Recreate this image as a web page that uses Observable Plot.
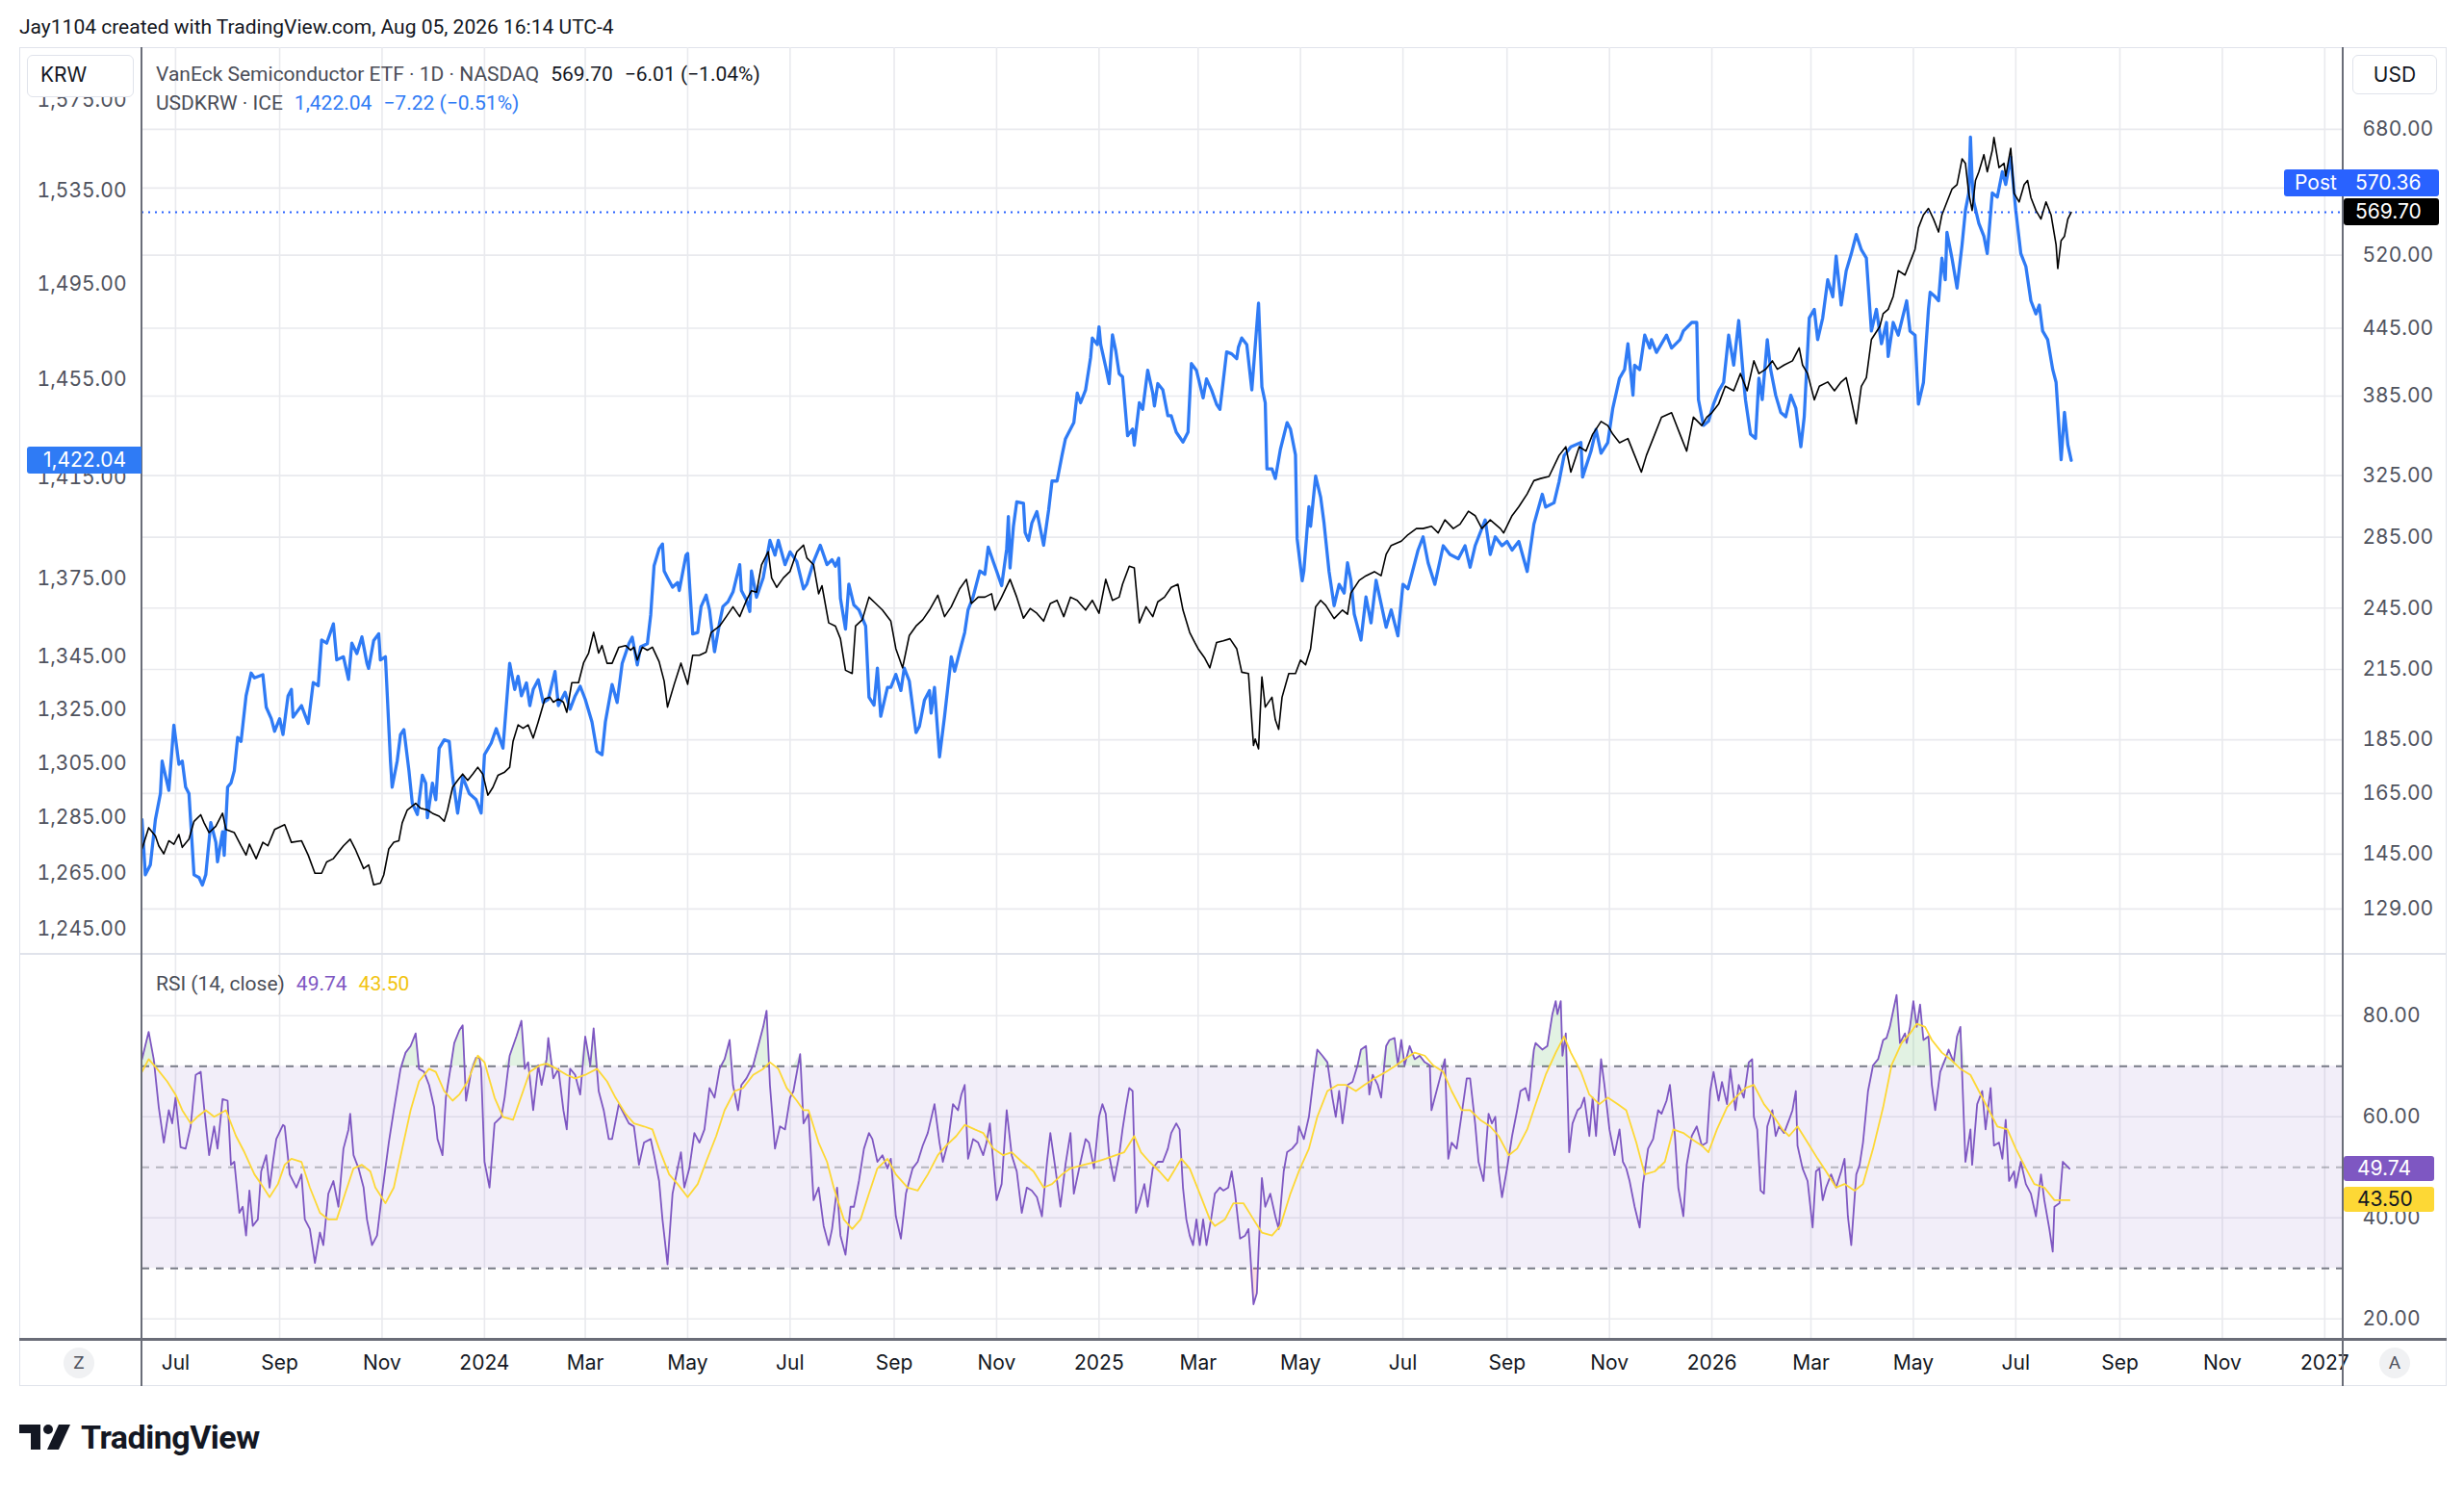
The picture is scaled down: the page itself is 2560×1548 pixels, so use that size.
<!DOCTYPE html>
<html><head><meta charset="utf-8">
<script src="https://cdn.jsdelivr.net/npm/d3@7"></script>
<script src="https://cdn.jsdelivr.net/npm/@observablehq/plot@0.6"></script>
<style>
html,body{margin:0;padding:0;background:#fff;}
body{width:2560px;height:1548px;position:relative;overflow:hidden;font-family:Roboto,"Liberation Sans",sans-serif;color:#131722;}
.abs{position:absolute;white-space:nowrap;}
.layer{position:absolute;left:20px;}
.layer svg{display:block;max-width:none;background:transparent;}
.box{position:absolute;height:28px;line-height:28px;font-family:Inter,Roboto,sans-serif;font-size:21px;color:#fff;border-radius:3px;box-sizing:border-box;white-space:nowrap;}
.leg{position:absolute;left:162px;height:28px;line-height:28px;font-size:21px;white-space:nowrap;}
.leg span{margin-right:12px;}
</style></head><body>
<div id="root"></div>
<script>
// ---------------- data ----------------
const startDate = "2023-06-11";
const endDate = "2027-01-12";

// USDKRW (ICE) readings: [day offset from startDate, KRW]
const usdKrwSeries = [[0,1284.4],[2,1264.4],[5,1268.0],[8,1284.4],[11,1293.9],[12,1305.8],[16,1295.0],[19,1319.2],[22,1304.6],[24,1305.8],[26,1296.2],[28,1293.8],[31,1264.4],[34,1263.4],[36,1260.7],[38,1264.4],[41,1283.2],[44,1276.1],[45,1269.1],[48,1279.9],[49,1271.4],[51,1296.2],[53,1297.7],[55,1302.3],[57,1314.6],[59,1313.1],[62,1330.2],[65,1338.8],[67,1337.0],[72,1338.2],[74,1325.9],[77,1321.6],[79,1316.9],[82,1321.6],[84,1315.7],[87,1330.2],[89,1332.6],[90,1322.2],[95,1326.5],[99,1319.8],[102,1335.2],[105,1334.0],[107,1351.4],[110,1350.2],[114,1357.6],[116,1343.8],[120,1345.0],[123,1336.4],[125,1350.2],[128,1346.2],[131,1352.6],[134,1342.5],[135,1340.6],[138,1351.2],[141,1353.8],[142,1343.8],[145,1345.0],[148,1305.8],[149,1296.2],[152,1305.8],[154,1315.7],[156,1317.5],[159,1302.3],[161,1290.3],[164,1286.2],[167,1300.6],[169,1297.7],[170,1285.0],[173,1297.7],[175,1291.6],[177,1310.6],[180,1313.7],[183,1313.1],[185,1299.9],[188,1286.7],[191,1299.9],[195,1293.8],[199,1291.6],[202,1286.7],[204,1308.2],[208,1312.5],[211,1317.9],[215,1310.6],[219,1342.5],[222,1332.6],[224,1337.6],[226,1330.2],[229,1335.1],[231,1326.5],[233,1332.6],[236,1336.3],[239,1327.7],[242,1328.9],[246,1339.4],[248,1326.5],[252,1331.5],[255,1325.2],[258,1330.2],[261,1333.8],[264,1328.9],[268,1320.4],[271,1309.4],[274,1308.2],[276,1320.4],[280,1334.5],[283,1327.7],[286,1342.5],[290,1350.0],[292,1352.5],[295,1341.9],[297,1348.8],[301,1350.0],[303,1361.1],[305,1380.2],[308,1386.8],[310,1388.7],[311,1378.1],[313,1375.5],[316,1371.8],[319,1373.6],[320,1370.5],[324,1384.3],[325,1385.0],[328,1353.7],[331,1354.3],[333,1364.3],[336,1368.7],[338,1363.0],[341,1346.9],[344,1358.0],[346,1364.3],[349,1366.1],[352,1369.9],[356,1380.6],[357,1370.5],[360,1366.8],[362,1362.4],[363,1378.1],[366,1367.9],[370,1375.5],[374,1390.1],[377,1384.3],[379,1390.1],[383,1380.6],[386,1385.6],[390,1381.8],[394,1371.1],[396,1373.0],[400,1381.8],[404,1388.2],[408,1380.6],[411,1382.5],[413,1380.0],[415,1383.1],[416,1367.4],[419,1355.6],[421,1373.0],[424,1364.9],[427,1363.0],[431,1356.8],[433,1329.7],[436,1326.7],[438,1340.7],[440,1322.5],[444,1333.4],[446,1333.4],[449,1338.3],[452,1332.2],[454,1340.7],[457,1335.8],[461,1316.4],[463,1318.7],[466,1328.5],[469,1332.2],[470,1323.7],[472,1333.4],[475,1307.4],[478,1322.5],[482,1345.0],[484,1339.5],[488,1349.4],[490,1354.3],[492,1363.0],[495,1368.0],[499,1378.1],[502,1376.8],[504,1387.5],[507,1381.8],[509,1378.1],[512,1372.4],[515,1386.8],[516,1399.5],[517,1379.3],[519,1395.6],[521,1405.4],[525,1404.8],[526,1393.2],[528,1390.1],[530,1397.0],[533,1401.5],[537,1388.2],[540,1402.2],[542,1413.7],[545,1413.7],[548,1424.2],[550,1430.7],[555,1437.3],[557,1449.4],[559,1445.4],[562,1450.7],[565,1464.2],[566,1472.2],[569,1469.5],[570,1476.8],[571,1469.5],[574,1460.1],[576,1453.3],[578,1473.5],[580,1466.8],[582,1457.4],[584,1456.1],[587,1432.0],[590,1434.7],[591,1428.1],[594,1445.4],[596,1442.7],[599,1458.8],[602,1449.4],[603,1444.1],[605,1453.3],[608,1450.7],[611,1440.1],[613,1440.1],[616,1433.4],[620,1429.4],[623,1433.4],[625,1461.6],[628,1458.8],[632,1447.4],[634,1455.2],[637,1450.7],[640,1444.8],[642,1442.7],[646,1466.4],[649,1465.6],[652,1463.6],[653,1468.3],[655,1472.2],[658,1469.5],[661,1450.7],[665,1486.8],[667,1452.0],[669,1445.4],[670,1418.6],[673,1418.6],[675,1414.7],[678,1426.4],[682,1437.3],[684,1434.7],[687,1424.2],[688,1390.7],[691,1374.3],[692,1378.1],[695,1403.5],[696,1395.7],[699,1415.7],[702,1407.2],[704,1397.0],[707,1377.9],[710,1364.6],[713,1372.9],[716,1369.5],[718,1381.3],[720,1374.5],[722,1361.4],[726,1351.4],[729,1368.0],[732,1358.0],[735,1374.5],[741,1356.3],[744,1363.0],[748,1353.0],[751,1372.9],[754,1371.2],[760,1386.3],[763,1391.5],[766,1381.3],[770,1372.9],[775,1388.0],[779,1384.6],[784,1382.9],[788,1388.0],[791,1379.6],[794,1388.0],[800,1398.2],[803,1384.6],[806,1391.5],[810,1388.0],[813,1389.7],[816,1386.3],[820,1389.7],[825,1377.9],[829,1396.5],[834,1408.4],[836,1403.3],[841,1405.0],[844,1413.5],[847,1424.0],[851,1427.5],[857,1429.2],[858,1415.3],[863,1425.7],[866,1434.5],[869,1424.9],[873,1429.2],[876,1443.2],[880,1455.5],[883,1459.1],[885,1469.8],[888,1448.5],[889,1460.9],[892,1459.1],[895,1473.4],[898,1468.0],[899,1471.5],[902,1466.2],[905,1469.8],[908,1473.4],[911,1468.0],[916,1471.5],[918,1475.1],[923,1478.7],[926,1478.7],[927,1446.7],[930,1436.2],[933,1437.9],[936,1444.9],[939,1450.2],[942,1453.8],[945,1473.4],[948,1460.9],[951,1479.5],[954,1453.8],[955,1446.7],[958,1432.6],[961,1430.9],[963,1455.5],[965,1446.7],[968,1471.5],[970,1459.1],[973,1448.5],[976,1441.5],[979,1439.7],[982,1448.5],[985,1443.2],[988,1427.5],[990,1439.7],[993,1480.6],[996,1484.2],[998,1471.5],[1001,1480.6],[1004,1496.7],[1007,1489.5],[1009,1506.8],[1011,1493.2],[1012,1486.0],[1015,1500.5],[1018,1507.7],[1021,1516.0],[1024,1509.5],[1027,1505.9],[1030,1475.1],[1033,1484.2],[1036,1469.8],[1039,1478.7],[1040,1464.5],[1043,1478.7],[1046,1473.4],[1051,1487.8],[1053,1475.1],[1056,1473.4],[1058,1444.9],[1061,1453.8],[1064,1484.2],[1065,1491.4],[1068,1489.5],[1070,1487.8],[1072,1505.9],[1074,1496.7],[1075,1517.0],[1078,1505.9],[1081,1493.2],[1084,1511.6],[1086,1526.4],[1088,1534.0],[1089,1558.5],[1090,1539.6],[1091,1530.1],[1094,1520.8],[1097,1515.3],[1099,1507.9],[1102,1534.0],[1105,1532.2],[1108,1543.3],[1110,1537.7],[1113,1549.7],[1116,1526.4],[1119,1507.9],[1122,1502.4],[1125,1487.8],[1128,1482.3],[1130,1486.0],[1132,1475.1],[1135,1471.5],[1138,1459.1],[1140,1453.8],[1143,1422.3],[1145,1441.5],[1147,1428.3],[1149,1422.04]];

// VanEck Semiconductor ETF readings: [day offset from startDate, USD]
const smhSeries = [[0,146.6],[4,153.4],[8,150.7],[10,147.6],[13,145.1],[16,149.2],[19,148.1],[22,151.2],[24,147.1],[28,149.7],[31,155.5],[35,157.7],[37,155.0],[40,151.8],[44,153.9],[48,158.2],[50,152.8],[55,151.8],[59,147.6],[62,144.7],[64,148.1],[68,143.6],[72,148.7],[75,147.6],[79,152.8],[85,154.4],[89,148.7],[95,149.2],[99,144.7],[103,139.2],[107,139.2],[110,142.6],[114,143.6],[117,145.6],[120,147.6],[124,149.7],[127,146.6],[132,140.6],[135,141.7],[138,135.8],[142,136.3],[144,138.7],[147,146.6],[150,148.7],[153,149.2],[155,155.0],[158,159.3],[163,161.6],[166,159.9],[170,159.3],[173,158.2],[177,157.2],[180,155.5],[182,159.3],[185,167.2],[188,169.7],[191,172.0],[194,169.7],[197,172.0],[200,174.5],[203,172.0],[206,164.4],[209,167.2],[212,171.5],[216,172.7],[219,174.5],[221,184.4],[224,191.0],[227,189.6],[230,191.0],[233,185.7],[236,192.2],[240,201.9],[243,202.6],[245,200.5],[248,201.9],[251,200.5],[253,196.2],[256,209.0],[260,209.0],[263,218.0],[266,222.6],[269,232.7],[272,222.6],[274,226.2],[277,217.8],[280,217.8],[284,225.4],[288,226.2],[291,224.0],[293,225.4],[295,219.3],[298,225.4],[301,224.0],[304,225.4],[308,218.6],[311,209.7],[313,198.4],[317,208.3],[321,217.9],[325,208.3],[328,221.6],[332,221.6],[336,223.1],[339,232.6],[344,235.8],[348,240.6],[352,245.7],[356,240.6],[360,249.1],[363,254.3],[366,253.4],[369,268.7],[373,276.3],[375,261.3],[378,256.1],[382,261.3],[386,265.0],[390,276.3],[394,280.2],[396,272.7],[400,268.7],[403,252.6],[405,257.0],[409,237.4],[413,235.8],[416,229.5],[419,214.6],[423,213.1],[425,235.8],[429,239.0],[433,250.8],[437,247.4],[441,244.0],[446,238.3],[449,224.7],[453,215.7],[457,231.1],[461,235.8],[465,239.0],[469,244.0],[474,251.8],[478,240.6],[482,245.7],[487,255.3],[491,260.5],[494,247.4],[498,250.8],[502,250.8],[506,252.6],[508,244.0],[512,250.8],[517,260.5],[521,250.8],[525,239.8],[529,244.8],[533,242.3],[537,238.3],[541,247.4],[545,249.1],[549,240.6],[553,250.8],[557,249.1],[562,244.0],[566,249.1],[570,242.3],[574,260.5],[578,249.1],[582,250.8],[584,257.8],[588,267.9],[591,266.9],[594,237.4],[598,245.7],[602,240.6],[605,248.3],[609,250.8],[613,256.1],[617,257.8],[620,244.0],[624,232.6],[627,227.7],[629,224.7],[633,220.2],[636,215.7],[640,227.7],[644,228.5],[648,229.5],[652,224.7],[655,213.7],[659,213.1],[662,182.8],[663,185.3],[665,181.5],[667,211.6],[669,198.4],[673,202.6],[675,193.1],[677,189.2],[679,202.6],[683,213.1],[687,213.1],[690,219.3],[693,217.1],[696,224.7],[699,245.7],[702,249.1],[705,246.5],[710,239.6],[715,244.0],[718,241.8],[720,253.0],[725,260.0],[729,262.5],[734,264.8],[738,262.5],[741,274.8],[744,280.0],[750,282.6],[754,286.5],[759,290.3],[763,290.3],[768,291.7],[772,287.6],[776,295.7],[781,290.3],[785,293.0],[790,301.2],[794,298.4],[798,290.3],[803,295.7],[809,290.3],[811,287.6],[816,298.4],[820,304.1],[825,312.6],[829,321.5],[833,323.0],[838,324.4],[844,339.3],[848,345.6],[851,327.4],[856,345.6],[860,342.4],[864,355.0],[869,364.8],[873,361.6],[876,355.0],[880,348.6],[885,351.7],[889,339.3],[893,327.4],[896,339.3],[901,355.0],[905,368.1],[911,371.6],[916,355.0],[920,342.4],[924,368.1],[929,361.6],[932,368.1],[935,371.6],[939,378.5],[943,393.2],[948,389.4],[952,404.0],[956,389.4],[960,415.1],[963,404.0],[967,407.7],[971,415.1],[974,407.7],[978,411.4],[983,415.1],[987,426.7],[989,411.4],[992,404.0],[996,382.0],[999,393.2],[1004,396.8],[1008,389.4],[1012,396.8],[1015,400.4],[1018,382.0],[1021,363.0],[1024,393.2],[1027,400.4],[1030,434.4],[1035,446.6],[1037,459.0],[1040,463.3],[1043,476.2],[1046,503.1],[1050,498.4],[1053,512.3],[1056,526.6],[1058,551.3],[1061,566.7],[1064,574.5],[1067,561.6],[1070,546.3],[1072,566.7],[1075,582.5],[1078,598.7],[1081,604.4],[1084,638.5],[1086,632.5],[1088,593.3],[1090,572.0],[1092,609.8],[1094,621.2],[1097,644.3],[1099,621.2],[1102,650.1],[1103,668.3],[1106,626.8],[1109,632.5],[1110,615.4],[1113,653.2],[1115,593.3],[1118,582.5],[1121,604.4],[1123,609.8],[1125,588.0],[1128,572.0],[1131,561.6],[1134,582.5],[1137,566.7],[1140,531.6],[1141,505.3],[1143,536.4],[1145,541.4],[1147,561.6],[1149,569.70]];

// RSI(14) readings: day offset from startDate, value
const rsiDay = [0,4,7,10,13,16,18,20,23,26,29,32,35,37,40,43,45,48,51,53,55,58,60,62,64,66,69,71,74,76,78,80,84,85,88,92,95,97,100,103,106,108,111,114,117,120,123,124,126,129,132,134,137,140,143,147,150,154,157,160,163,165,168,171,174,176,179,181,184,186,189,191,193,196,199,201,202,204,207,210,214,216,219,223,226,228,230,233,236,238,241,242,245,248,251,253,255,258,261,264,267,269,272,275,278,280,284,287,290,293,296,299,303,305,308,310,313,316,319,321,323,326,329,332,335,338,341,344,347,350,352,355,357,360,364,367,370,372,374,377,380,383,386,388,392,394,397,400,403,406,409,411,414,416,419,422,424,427,430,433,435,438,441,444,446,449,452,455,459,462,465,468,472,475,477,480,483,486,488,490,492,495,498,501,503,505,509,512,515,518,521,524,527,530,533,536,539,541,544,547,550,553,555,559,562,564,567,570,572,
574,576,579,582,584,586,588,590,592,594,597,599,602,605,608,611,613,616,618,620,622,624,626,628,630,632,634,637,639,642,644,647,649,651,654,657,659,660,662,664,665,667,669,672,675,677,680,682,685,688,689,692,695,698,700,703,706,709,711,713,715,718,721,724,726,729,731,733,736,738,741,743,746,748,750,752,755,758,761,764,767,768,770,773,776,778,780,783,786,789,791,794,796,799,802,804,806,808,810,813,816,819,821,824,826,829,830,834,837,840,842,843,845,846,848,850,852,855,857,859,862,864,866,868,869,871,874,877,880,882,884,886,889,892,894,897,900,903,905,908,910,913,915,918,920,923,926,929,932,934,936,939,941,944,946,949,951,954,957,959,960,962,964,966,968,971,973,975,978,981,983,985,986,989,992,995,997,999,1001,1003,1006,1009,1012,1014,1016,1018,1021,1023,1025,1028,1031,1034,1037,1039,1041,1043,1045,1047,1050,1051,1053,1055,1057,1059,1061,1064,1066,1068,1071,1074,1076,1079,1081,1083,1086,1089,1090,1093,1096,1098,1101,1103,1106,1108,1110,1112,1115,1116,1119,1122,1125,1128,1131,1133,1136,1138,1139,1142,1144,1148];
const rsiVal = [71.4,76.8,71.4,61.9,54.9,61.3,58.7,63.8,54.0,53.7,58.1,68.3,68.9,61.9,52.4,58.1,53.7,63.5,63.2,50.5,51.1,41.0,42.2,36.5,45.4,38.4,39.7,49.2,52.4,46.0,51.1,55.6,58.4,58.1,48.6,46.0,48.6,39.7,37.8,31.1,37.1,34.6,44.8,47.3,42.2,53.7,57.5,60.6,52.4,49.8,46.0,39.7,34.6,36.5,44.8,54.9,61.3,69.5,72.7,74.0,76.5,69.5,68.9,66.3,61.9,55.6,52.4,63.8,70.2,74.6,77.1,78.1,63.2,68.9,71.7,71.7,69.5,51.1,46.0,58.7,60.0,63.8,72.1,75.9,79.0,69.5,70.8,61.3,70.2,66.3,71.4,75.6,67.6,69.5,61.3,57.5,69.5,68.3,64.4,75.9,70.2,77.5,65.1,61.3,55.6,55.6,62.5,60.6,58.7,58.1,50.5,54.9,55.6,52.4,47.3,39.7,30.8,44.8,49.8,53.0,46.0,49.8,56.8,54.9,57.5,65.7,63.8,69.5,71.4,75.2,66.3,61.3,66.3,67.6,70.2,74.0,77.8,81.0,66.3,53.7,58.1,57.5,63.8,65.1,72.4,58.7,60.6,43.5,46.0,38.4,34.6,37.8,46.0,36.5,32.7,42.2,42.2,47.3,53.7,56.8,55.6,51.1,52.4,49.8,51.7,40.3,35.9,44.8,49.8,51.1,54.3,56.8,62.5,54.9,51.1,54.9,62.5,61.3,64.4,66.3,51.7,55.6,54.9,52.4,54.9,58.7,43.5,46.7,61.3,52.4,49.2,41.0,46.0,45.4,44.1,40.3,51.1,56.8,49.8,42.2,50.5,56.8,44.8,51.1,55.6,54.9,49.8,60.0,62.5,
60.6,52.4,47.3,52.4,57.5,61.9,65.7,65.1,41.0,42.9,46.7,42.2,49.8,51.1,51.1,53.7,56.8,58.7,57.5,46.0,39.7,36.5,34.6,39.7,34.6,39.7,34.6,40.3,44.8,46.0,45.4,46.0,49.2,44.8,35.9,36.5,37.8,33.3,22.9,25.1,33.3,47.9,42.2,44.8,40.3,37.8,49.2,53.0,53.7,54.9,58.1,55.6,60.0,68.3,73.3,72.1,70.8,63.8,60.0,65.1,58.7,66.3,66.9,70.2,73.3,74.0,64.4,68.3,66.3,63.8,74.0,75.2,75.6,70.2,75.2,70.2,74.0,71.4,72.1,70.8,70.2,61.3,63.8,67.6,71.4,51.7,54.9,53.7,60.6,67.6,67.6,58.7,51.1,47.3,60.6,58.7,60.0,49.2,44.1,49.8,56.2,61.3,65.1,65.7,63.2,73.3,74.6,73.3,74.0,80.3,82.9,80.3,82.9,72.1,76.5,53.0,58.7,61.3,61.9,63.8,56.2,63.8,56.2,66.3,71.4,66.3,57.5,52.4,57.5,51.1,49.8,47.3,42.2,38.1,46.7,53.7,55.6,61.3,60.6,63.2,66.3,56.2,46.0,40.3,50.5,56.2,58.1,54.3,54.9,65.1,68.9,63.2,66.9,62.5,69.5,61.3,66.3,63.8,70.8,71.4,60.0,57.5,45.4,44.8,58.1,61.3,56.2,58.1,56.8,59.4,61.3,65.1,54.3,49.8,47.3,38.1,49.2,49.8,43.5,46.0,48.6,46.0,49.2,51.7,40.3,34.6,48.6,50.5,54.9,65.1,70.2,71.4,75.2,75.6,77.8,81.0,84.1,74.6,76.5,74.6,77.8,82.9,77.8,82.2,75.2,75.9,66.3,61.3,68.9,71.4,73.3,70.8,75.9,77.8,51.1,57.5,50.5,62.5,65.1,57.5,65.7,54.3,54.9,51.7,59.4,47.3,49.2,46.0,51.1,46.7,44.8,40.3,48.6,43.5,37.8,33.3,42.2,42.9,51.1,49.74];

// RSI-based moving average readings: day offset, value
const maDay = [0,4,9,15,20,24,29,33,38,43,50,56,61,67,71,76,81,85,89,95,100,106,111,116,121,126,131,136,139,145,150,155,160,165,171,175,180,185,189,194,200,204,210,215,221,227,231,237,241,247,253,258,264,271,277,282,288,293,299,304,308,314,319,325,331,336,342,347,353,358,364,370,374,379,384,390,394,397,403,408,412,418,423,428,433,438,444,449,456,462,468,474,479,485,490,496,501,507,513,518,524,531,537,542,548,553,561,568,
574,580,585,591,595,600,606,611,619,624,630,636,639,645,650,656,662,667,673,678,684,689,695,700,706,712,717,723,728,734,741,747,752,758,764,769,775,780,786,791,797,803,808,814,819,825,830,836,842,847,851,857,862,868,873,879,884,890,895,901,907,912,918,923,929,933,938,944,949,955,960,966,972,977,981,986,992,998,1003,1009,1014,1020,1025,1031,1037,1042,1048,1053,1057,1062,1066,1072,1077,1083,1089,1094,1100,1105,1111,1116,1122,1127,1133,1139,1144,1148];
const maVal = [68.9,71.4,69.5,67.0,64.4,61.3,58.7,60.0,61.3,60.0,61.3,56.2,53.0,48.6,46.7,44.1,46.7,50.5,51.7,51.1,46.0,41.0,39.7,39.7,44.8,49.8,50.5,49.2,46.0,42.9,46.0,53.7,61.3,67.0,69.5,68.9,65.1,63.2,64.4,67.0,72.1,70.8,63.8,60.0,59.4,65.1,68.9,70.2,70.5,69.5,68.3,67.6,68.3,69.5,67.0,63.8,60.6,58.7,58.1,57.5,53.7,48.6,46.7,44.1,46.7,51.1,56.2,61.3,65.1,65.7,68.3,69.5,70.8,69.5,65.7,63.2,61.3,61.3,54.9,51.1,46.0,39.7,37.8,39.7,44.8,49.8,51.7,48.6,46.0,45.4,48.6,52.4,54.3,56.2,58.4,57.5,56.8,53.7,52.4,53.0,51.1,49.2,46.0,46.7,48.6,49.8,50.5,51.1,
51.7,52.4,53.0,56.2,53.0,51.1,49.2,47.3,51.7,49.8,44.8,39.7,38.4,39.7,42.9,42.9,39.7,37.1,36.5,38.4,44.8,49.2,53.7,60.0,65.1,66.3,66.3,65.1,66.3,67.6,68.9,70.2,71.4,72.7,72.1,70.2,68.9,65.1,61.3,61.3,59.4,58.1,56.2,52.4,53.7,57.5,62.5,68.3,72.7,75.9,72.7,68.9,64.4,62.5,63.8,62.5,61.3,54.9,48.6,49.2,51.1,57.5,56.8,55.6,54.3,53.0,57.5,61.9,63.8,65.7,66.3,62.5,60.0,57.5,56.2,58.1,54.9,51.7,49.2,46.0,46.7,45.4,46.7,53.7,61.9,70.2,74.6,76.5,78.4,77.8,75.2,72.7,71.4,69.5,68.3,65.1,61.3,58.1,57.5,53.7,49.8,46.7,46.0,43.5,43.5,43.50];

// tick labels
const timeTickDates = ["2023-07-01","2023-09-01","2023-11-01","2024-01-01","2024-03-01","2024-05-01","2024-07-01","2024-09-01","2024-11-01","2025-01-01","2025-03-01","2025-05-01","2025-07-01","2025-09-01","2025-11-01","2026-01-01","2026-03-01","2026-05-01","2026-07-01","2026-09-01","2026-11-01","2027-01-01"];
const timeTickLabels = ["Jul","Sep","Nov","2024","Mar","May","Jul","Sep","Nov","2025","Mar","May","Jul","Sep","Nov","2026","Mar","May","Jul","Sep","Nov","2027"];
const krwTicks = [1245,1265,1285,1305,1325,1345,1375,1415,1455,1495,1535,1575];
const usdTicks = [129,145,165,185,215,245,285,325,385,445,520,600,680];
const rsiTicks = [20,40,60,80];
const rsiLevels = [30,50,70];

const lastUsd = 569.70, postUsd = 570.36, lastKrw = 1422.04, lastRsi = 49.74, lastMa = 43.50;

// ---------------- build ----------------
const start = new Date(startDate), end = new Date(endDate);
const krw = usdKrwSeries.map(([d, v]) => ({date: d3.utcDay.offset(start, d), v}));
const smh = smhSeries.map(([d, v]) => ({date: d3.utcDay.offset(start, d), v}));
const rsi = rsiDay.map((d, i) => ({date: d3.utcDay.offset(start, d), v: rsiVal[i]}));
const ma = maDay.map((d, i) => ({date: d3.utcDay.offset(start, d), v: maVal[i]}));
const timeTicks = timeTickDates.map((d, i) => ({date: new Date(d), label: timeTickLabels[i], year: /^\d{4}$/.test(timeTickLabels[i])}));
const tickDateObjs = timeTicks.map(d => d.date);

const W = 2522, ML = 127, MR = 108;
const MAIN_T = 49, MAIN_H = 942, RSI_T = 991, RSI_H = 400, TIME_T = 1391, TIME_H = 49;
const axisFont = {fontFamily: "Inter, Roboto, sans-serif", fontSize: "21px", color: "#50535e", background: "transparent", overflow: "visible"};
const common = {width: W, marginLeft: ML, marginRight: MR, marginTop: 0, marginBottom: 0,
  x: {type: "utc", domain: [start, end], axis: null, label: null}, style: axisFont};
const GRID = "#e9eaee";
const fmtK = d3.format(",.2f");
const fmt2 = d3.format(".2f");

const root = document.getElementById("root");
function place(svg, top) {
  const d = document.createElement("div");
  d.className = "layer"; d.style.top = top + "px";
  d.appendChild(svg); root.appendChild(d); return svg;
}
function div(cls, css, html) {
  const d = document.createElement("div");
  d.className = cls; d.style.cssText = css; d.innerHTML = html; root.appendChild(d); return d;
}

// frame
div("abs", "left:20px;top:49px;width:2522px;height:1391px;border:1px solid #e0e3eb;box-sizing:border-box;", "");

// Layer A: grid + right axis (USD scale)
const layerA = place(Plot.plot({...common, height: MAIN_H,
  y: {type: "log", domain: [117.1, 809.4], axis: null, label: null},
  marks: [
    Plot.gridX(tickDateObjs, {stroke: GRID, strokeOpacity: 1, strokeWidth: 1.6}),
    Plot.gridY(usdTicks, {stroke: GRID, strokeOpacity: 1, strokeWidth: 1.6}),
    Plot.axisY(usdTicks, {anchor: "right", tickSize: 0, tickPadding: 20, tickFormat: fmt2, label: null})
  ]}), MAIN_T);

// Layer B: USDKRW (KRW scale, left axis)
const layerB = place(Plot.plot({...common, height: MAIN_H,
  y: {type: "log", domain: [1236.2, 1598.5], axis: null, label: null},
  marks: [
    Plot.line(krw, {x: "date", y: "v", stroke: "#2F7BF5", strokeWidth: 3.3, clip: true}),
    Plot.axisY(krwTicks, {anchor: "left", tickSize: 0, tickPadding: 16, tickFormat: fmtK, label: null})
  ]}), MAIN_T);

// Layer C: SMH (USD scale)
const layerC = place(Plot.plot({...common, height: MAIN_H,
  y: {type: "log", domain: [117.1, 809.4], axis: null, label: null},
  marks: [
    Plot.ruleY([lastUsd], {stroke: "#2962FF", strokeWidth: 2, strokeDasharray: "2,5"}),
    Plot.line(smh, {x: "date", y: "v", stroke: "#000000", strokeWidth: 1.6, clip: true})
  ]}), MAIN_T);

// RSI pane
const rsiPlot = place(Plot.plot({...common, height: RSI_H,
  y: {domain: [15.96, 92.15], axis: null, label: null},
  marks: [
    Plot.gridX(tickDateObjs, {stroke: GRID, strokeOpacity: 1, strokeWidth: 1.6}),
    Plot.gridY(rsiTicks, {stroke: GRID, strokeOpacity: 1, strokeWidth: 1.6}),
    Plot.rect([{x1: start, x2: end}], {x1: "x1", x2: "x2", y1: 30, y2: 70, fill: "#7E57C2", fillOpacity: 0.1}),
    Plot.ruleY([rsiLevels[0], rsiLevels[2]], {stroke: "#787B86", strokeWidth: 2, strokeDasharray: "8,7"}),
    Plot.ruleY([rsiLevels[1]], {stroke: "#787B86", strokeOpacity: 0.5, strokeWidth: 2, strokeDasharray: "8,7"}),
    Plot.areaY(rsi, {x: "date", y1: 70, y2: d => Math.max(70, d.v), fill: "#4CAF50", fillOpacity: 0.16}),
    Plot.areaY(rsi, {x: "date", y1: 30, y2: d => Math.min(30, d.v), fill: "#F23645", fillOpacity: 0.16}),
    Plot.line(rsi, {x: "date", y: "v", stroke: "#7E57C2", strokeWidth: 1.8, clip: true}),
    Plot.line(ma, {x: "date", y: "v", stroke: "#FDD835", strokeWidth: 1.8, clip: true}),
    Plot.axisY(rsiTicks, {anchor: "right", tickSize: 0, tickPadding: 20, tickFormat: fmt2, label: null})
  ]}), RSI_T);

// time axis
place(Plot.plot({...common, height: TIME_H,
  marks: [
    Plot.text(timeTicks, {x: "date", text: "label", frameAnchor: "middle", fill: "#131722",
      fontWeight: d => d.year ? 700 : 400, fontSize: 21})
  ]}), TIME_T);

// pane borders
div("abs", "left:20px;top:990px;width:2522px;height:2px;background:#e0e3eb;", "");
div("abs", "left:146px;top:49px;width:2px;height:1391px;background:#6a6d78;", "");
div("abs", "left:2433px;top:49px;width:2px;height:1391px;background:#6a6d78;", "");
div("abs", "left:20px;top:1390px;width:2522px;height:3px;background:#6a6d78;", "");

// header
div("abs", "left:20px;top:14px;font-size:21px;line-height:28px;color:#131722;", "Jay1104 created with TradingView.com, Aug 05, 2026 16:14 UTC-4");

// legends
div("leg", "top:63px;", '<span style="color:#4a4d57">VanEck Semiconductor ETF · 1D · NASDAQ</span><span style="color:#131722">' + fmt2(lastUsd) + '</span><span style="color:#131722">−6.01 (−1.04%)</span>');
div("leg", "top:93px;", '<span style="color:#4a4d57">USDKRW · ICE</span><span style="color:#2F7BF5">' + fmtK(lastKrw) + '</span><span style="color:#2F7BF5">−7.22 (−0.51%)</span>');
div("leg", "top:1008px;", '<span style="color:#4a4d57">RSI (14, close)</span><span style="color:#7E57C2">' + fmt2(lastRsi) + '</span><span style="color:#F2C40F">' + fmt2(lastMa) + '</span>');

// currency boxes
div("abs", "left:28px;top:57px;width:111px;height:44px;border:1px solid #e0e3eb;border-radius:6px;background:#fff;box-sizing:border-box;font-family:Inter,Roboto,sans-serif;font-size:21px;line-height:40px;padding-left:13px;color:#131722;", "KRW");
div("abs", "left:2444px;top:57px;width:88px;height:41px;border:1px solid #e0e3eb;border-radius:6px;background:#fff;box-sizing:border-box;font-family:Inter,Roboto,sans-serif;font-size:21px;line-height:39px;text-align:center;color:#131722;", "USD");

// price labels positioned by scales
const yUsd = layerC.scale("y"), yKrw = layerB.scale("y"), yRsi = rsiPlot.scale("y");
const yLast = MAIN_T + yUsd.apply(lastUsd);
div("box", `left:2435px;top:${yLast - 14}px;width:99px;background:#000;padding-left:12px;`, fmt2(lastUsd));
div("box", `left:2373px;top:${yLast - 44}px;width:161px;background:#2962FF;`,
  '<span style="position:absolute;left:11px">Post</span><span style="position:absolute;left:74px">' + fmt2(postUsd) + '</span>');
const yK = MAIN_T + yKrw.apply(lastKrw);
div("box", `left:28px;top:${yK - 14}px;width:119px;background:#2F7BF5;text-align:right;padding-right:16px;border-radius:3px 0 0 3px;`, fmtK(lastKrw));
const yR = RSI_T + yRsi.apply(lastRsi), yM = RSI_T + yRsi.apply(lastMa);
div("box", `left:2435px;top:${yR - 13}px;height:26px;line-height:26px;width:94px;background:#7E57C2;padding-left:14px;`, fmt2(lastRsi));
div("box", `left:2435px;top:${yM - 13}px;height:26px;line-height:26px;width:94px;background:#FDD835;color:#131722;padding-left:14px;`, fmt2(lastMa));

// Z / A buttons
div("abs", "left:66px;top:1400px;width:32px;height:32px;border-radius:16px;background:#f0f1f3;text-align:center;line-height:32px;font-size:19px;color:#50535e;", "Z");
div("abs", "left:2472px;top:1400px;width:32px;height:32px;border-radius:16px;background:#f0f1f3;text-align:center;line-height:32px;font-size:19px;color:#50535e;", "A");

// TradingView logo
div("abs", "left:20px;top:1476px;height:36px;", '<svg width="56" height="36" viewBox="0 0 56 36"><path d="M0 4h22v26h-10V13H0z" fill="#131722"/><circle cx="30" cy="9" r="5" fill="#131722"/><path d="M41 4h12L41 30H29z" fill="#131722"/></svg>');
div("abs", "left:84px;top:1473px;font-size:34px;line-height:40px;font-weight:700;color:#131722;letter-spacing:-0.5px;", "TradingView");
</script></body></html>
